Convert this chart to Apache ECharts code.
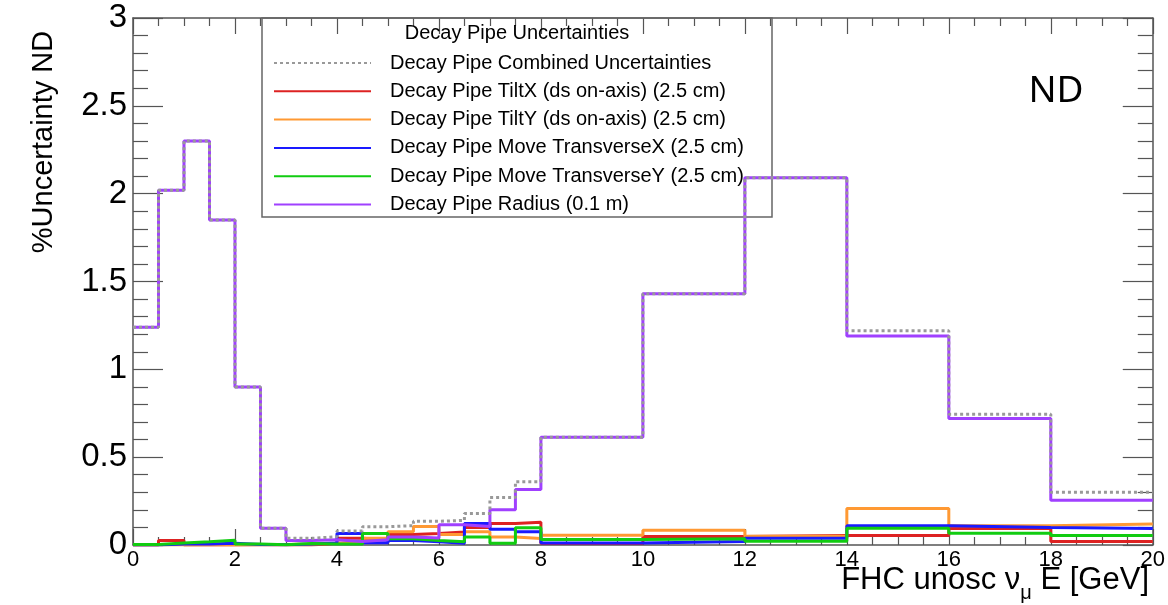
<!DOCTYPE html>
<html>
<head>
<meta charset="utf-8">
<title>Decay Pipe Uncertainties ND</title>
<script src="https://cdn.jsdelivr.net/npm/echarts@6/dist/echarts.min.js"></script>
<style>
  html, body { margin: 0; padding: 0; background: #ffffff; }
  #chart { width: 1168px; height: 605px; }
</style>
</head>
<body>
<div id="chart"></div>
<script>
// Bin edges in GeV: 0.5 GeV bins up to 8 GeV, then 2 GeV bins up to 20 GeV
const binEdges = [0, 0.5, 1, 1.5, 2, 2.5, 3, 3.5, 4, 4.5, 5, 5.5, 6, 6.5, 7, 7.5, 8, 10, 12, 14, 16, 18, 20];

// Percent uncertainty per bin
const combined   = [1.24, 2.02, 2.30, 1.85, 0.90, 0.095, 0.038, 0.047, 0.080, 0.104, 0.110, 0.135, 0.140, 0.180, 0.270, 0.360, 0.613, 1.430, 2.090, 1.220, 0.745, 0.300];
const tiltX      = [0.000, 0.025, 0.000, 0.000, 0.000, 0.000, 0.000, 0.010, 0.038, 0.030, 0.060, 0.065, 0.074, 0.100, 0.122, 0.130, 0.008, 0.048, 0.054, 0.054, 0.094, 0.020];
const tiltY      = [0.000, 0.000, 0.000, 0.000, 0.003, 0.003, 0.005, 0.010, 0.020, 0.038, 0.076, 0.106, 0.060, 0.075, 0.046, 0.037, 0.055, 0.084, 0.050, 0.208, 0.110, 0.120];
const transX     = [0.000, 0.005, 0.006, 0.010, 0.003, 0.002, 0.005, 0.012, 0.066, 0.013, 0.025, 0.018, 0.010, 0.122, 0.090, 0.076, 0.012, 0.020, 0.038, 0.110, 0.100, 0.094];
const transY     = [0.003, 0.012, 0.018, 0.027, 0.005, 0.002, 0.008, 0.005, 0.005, 0.066, 0.035, 0.025, 0.018, 0.045, 0.010, 0.098, 0.032, 0.035, 0.022, 0.096, 0.067, 0.054];
const radius     = [1.24, 2.02, 2.30, 1.85, 0.90, 0.095, 0.026, 0.030, 0.020, 0.030, 0.045, 0.040, 0.115, 0.105, 0.200, 0.316, 0.613, 1.430, 2.090, 1.190, 0.720, 0.255];

const seriesNames = [
  'Decay Pipe Combined Uncertainties',
  'Decay Pipe TiltX (ds on-axis) (2.5 cm)',
  'Decay Pipe TiltY (ds on-axis) (2.5 cm)',
  'Decay Pipe Move TransverseX (2.5 cm)',
  'Decay Pipe Move TransverseY (2.5 cm)',
  'Decay Pipe Radius (0.1 m)'
];

// Histogram outline: one point at each low edge, plus the last upper edge
function histPoints(values) {
  const pts = values.map((v, i) => [binEdges[i], v]);
  pts.push([binEdges[binEdges.length - 1], values[values.length - 1]]);
  return pts;
}

function histSeries(name, values, color, width, dash, z) {
  return {
    name: name,
    type: 'line',
    step: 'end',
    data: histPoints(values),
    symbol: 'none',
    showSymbol: false,
    animation: false,
    z: z,
    lineStyle: { color: color, width: width, type: dash || 'solid' },
    itemStyle: { color: color },
    emphasis: { disabled: true }
  };
}

const FONT = 'Liberation Sans, Arial, Helvetica, sans-serif';
const frameColor = '#555555';

const chart = echarts.init(document.getElementById('chart'), null, { renderer: 'canvas' });

const xCommon = {
  type: 'value', min: 0, max: 20, interval: 2,
  axisLine: { show: true, onZero: false, lineStyle: { color: frameColor, width: 1.5 } },
  axisTick: { show: true, inside: true, length: 16, lineStyle: { color: frameColor, width: 1.2 } },
  minorTick: { show: true, splitNumber: 4, length: 8, lineStyle: { color: frameColor, width: 1.2 } },
  splitLine: { show: false }
};
const yCommon = {
  type: 'value', min: 0, max: 3, interval: 0.5,
  axisLine: { show: true, onZero: false, lineStyle: { color: frameColor, width: 1.5 } },
  axisTick: { show: true, inside: true, length: 30, lineStyle: { color: frameColor, width: 1.2 } },
  minorTick: { show: true, splitNumber: 5, length: 15, lineStyle: { color: frameColor, width: 1.2 } },
  splitLine: { show: false }
};

const option = {
  backgroundColor: '#ffffff',
  animation: false,
  grid: { left: 133, right: 13, top: 18, bottom: 60, show: false },
  xAxis: [
    Object.assign({}, xCommon, {
      position: 'bottom',
      axisLabel: { show: true, color: '#000', fontFamily: FONT, fontSize: 22, margin: 4 }
    }),
    Object.assign({}, xCommon, { position: 'top', axisLabel: { show: false } })
  ],
  yAxis: [
    Object.assign({}, yCommon, {
      position: 'left',
      axisLabel: { show: true, color: '#000', fontFamily: FONT, fontSize: 33, margin: 6 }
    }),
    Object.assign({}, yCommon, { position: 'right', axisLabel: { show: false } })
  ],
  legend: {
    show: true,
    orient: 'vertical',
    left: 268,
    top: 48,
    itemWidth: 97,
    itemHeight: 20,
    itemGap: 8.3,
    data: seriesNames,
    selectedMode: false,
    itemStyle: { opacity: 0 },
    textStyle: { color: '#000', fontFamily: FONT, fontSize: 20, lineHeight: 20, padding: [0, 0, 0, 14] }
  },
  graphic: [
    {
      type: 'rect', z: 1, silent: true,
      shape: { x: 262, y: 18, width: 510, height: 199 },
      style: { fill: 'rgba(0,0,0,0)', stroke: '#666666', lineWidth: 1.5 }
    },
    {
      type: 'text', z: 10, silent: true,
      style: { x: 517, y: 33, text: 'Decay Pipe Uncertainties', align: 'center', verticalAlign: 'middle',
               fill: '#000', font: '20px ' + FONT }
    },
    {
      type: 'text', z: 10, silent: true,
      style: { x: 1056, y: 91, text: 'ND', align: 'center', verticalAlign: 'middle',
               fill: '#000', font: '37px Noto Sans, DejaVu Sans, sans-serif' }
    },
    {
      type: 'text', z: 10, silent: true,
      style: {
        x: 1149, y: 584, align: 'right', verticalAlign: 'middle',
        text: '{a|FHC unosc ν}{s|μ}{a| E [GeV]}',
        rich: {
          a: { fontFamily: FONT, fontSize: 31, fill: '#000', color: '#000', verticalAlign: 'top', lineHeight: 34 },
          s: { fontFamily: FONT, fontSize: 20, fill: '#000', color: '#000', verticalAlign: 'bottom', lineHeight: 38 }
        }
      }
    },
    {
      type: 'text', z: 10, silent: true, rotation: Math.PI / 2,
      x: 44, y: 142,
      style: { x: 0, y: 0, text: '%Uncertainty ND', align: 'center', verticalAlign: 'middle',
               fill: '#000', font: '29px ' + FONT }
    }
  ],
  series: [
    histSeries(seriesNames[1], tiltX,  '#dd2222', 3, null, 3),
    histSeries(seriesNames[2], tiltY,  '#ff9933', 3, null, 3),
    histSeries(seriesNames[3], transX, '#1a1aff', 3, null, 3),
    histSeries(seriesNames[4], transY, '#11cc11', 3, null, 3),
    histSeries(seriesNames[5], radius, '#a040ff', 3, null, 4),
    histSeries(seriesNames[0], combined, '#999999', 3, [3, 3], 5)
  ]
};

chart.setOption(option);
</script>
</body>
</html>
